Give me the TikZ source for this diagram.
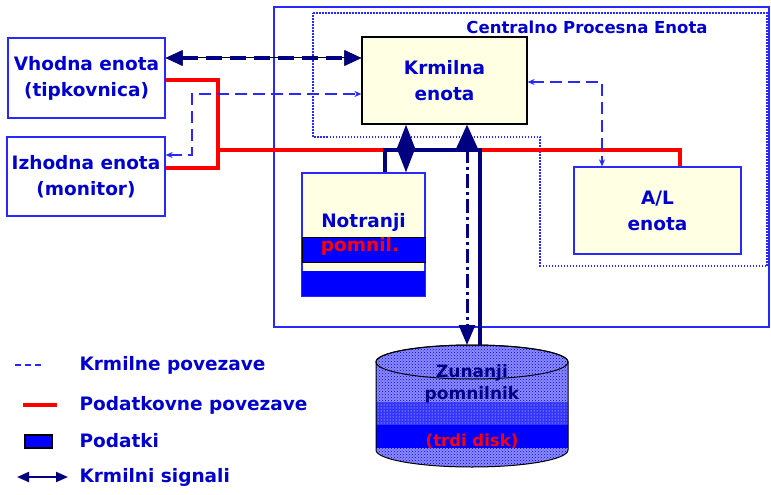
\documentclass[tikz,border=0pt]{standalone}
\usepackage{fontspec}
\setmainfont{DejaVu Sans}
\usetikzlibrary{
	arrows.meta,
	patterns,
	positioning,
	calc
}
\definecolor{TxtBlue}{RGB}{0,0,204}
\definecolor{LineBlue}{RGB}{40,40,255}
\definecolor{Navy}{RGB}{0,0,128}
\definecolor{PaleYellow}{RGB}{255,255,228}
\definecolor{DiskBlue}{RGB}{140,140,255}

\begin{document}
\begin{tikzpicture}[x=1pt, y=-1pt,
		unit/.style={draw=LineBlue, line width=1.2pt, align=center, text=TxtBlue,
			font=\fontsize{18.5}{26}\selectfont\bfseries, inner sep=0pt},
		legtxt/.style={anchor=west, text=TxtBlue, font=\fontsize{18.5}{22}\selectfont\bfseries},
		data/.style={red, line width=4pt, line join=miter},
		ctrl/.style={LineBlue, line width=1.3pt, dash pattern=on 12pt off 6pt,
			{Stealth[length=7pt,width=6pt]}-{Stealth[length=7pt,width=6pt]}},
		sig/.style={Navy, line width=3.5pt, dash pattern=on 16pt off 8pt,
			{Triangle[length=17pt,width=15pt]}-{Triangle[length=17pt,width=15pt]},
			preaction={draw=black, line width=1pt, solid}},
		bus/.style={Navy, line width=4.5pt, line join=miter}]
		\useasboundingbox (0,0) rectangle (771,495);
		
		% CPE
		\draw[LineBlue, line width=1.3pt] (274,7) rectangle (769,327);
		\draw[LineBlue, line width=1.2pt, dash pattern=on 1.5pt off 1.5pt]
			(313,13) -- (767,13) -- (767,266) -- (540,266) -- (540,137) -- (313,137) -- cycle;
		\node[text=TxtBlue, font=\fontsize{16.5}{20}\selectfont\bfseries] (cpe) at (587,27) {Centralno Procesna Enota};
		
		\node[unit, minimum width=157, minimum height=80] (vhod) at (86.5,78) {Vhodna enota\\(tipkovnica)};
		\node[unit, minimum width=158, minimum height=79] (izhod) at (86,176.5) {Izhodna enota\\(monitor)};
		\node[unit, draw=black, fill=PaleYellow, minimum width=165, minimum height=87] (krm) at (444.5,80.5) {Krmilna\\enota};
		\node[unit, fill=PaleYellow, minimum width=167, minimum height=87] (alu) at (657.5,210.5) {A/L\\enota};
		
		% notranji pomnilnik
		\node[unit, fill=PaleYellow, minimum width=123, minimum height=123] (notr) at (363.5,234.5) {};
		\filldraw[fill=blue, draw=black, line width=1pt] (302,237) rectangle (425,262);
		\fill[blue] (302,271) rectangle (425,296);
		\node[text=TxtBlue, font=\fontsize{18.5}{22}\selectfont\bfseries] (notr1) at (363.5,222) {Notranji};
		\node[text=red, font=\fontsize{18.5}{22}\selectfont\bfseries] (notr2) at (360,246) {pomnil.};
		
		% zunanji pomnilnik
		\coordinate (disktop) at (472,345);
		\begin{scope}
			\clip (376,362) -- (376,450) arc[start angle=180, end angle=0, x radius=96, y radius=17]
				-- (568,362) arc[start angle=0, end angle=-180, x radius=96, y radius=17] -- cycle;
			\fill[DiskBlue] (370,340) rectangle (575,470);
			\fill[pattern=crosshatch dots, pattern color=blue] (370,340) rectangle (575,470);
			\fill[blue!80] (370,402) rectangle (575,425);
			\fill[pattern=dots, pattern color=white] (370,402) rectangle (575,425);
			\fill[blue] (370,425) rectangle (575,448);
		\end{scope}
		\draw[line width=1pt] (376,362) -- (376,450) arc[start angle=180, end angle=0, x radius=96, y radius=17]
			-- (568,362) arc[start angle=0, end angle=-180, x radius=96, y radius=17];
		\draw[line width=1pt] (472,362) ellipse[x radius=96, y radius=17];
		\node[text=Navy, align=center, font=\fontsize{17}{22}\selectfont\bfseries] (disk) at (472,384) {Zunanji\\pomnilnik};
		\node[text=red, font=\fontsize{16.5}{20}\selectfont\bfseries] (disk2) at (472,441) {(trdi disk)};
		
		% podatkovne povezave
		\coordinate (rj) at (218,150);
		\draw[data] ([yshift=-2pt]vhod.east) -| (rj) |- ([yshift=8.5pt]izhod.east);
		\draw[data] (rj) -| ([xshift=22.5pt]alu.north);
		
		% vodilo
		\draw[bus] ([xshift=21.5pt]notr.north) |- (480,150) -- ([xshift=8pt]disktop);
		
		% krmilne povezave
		\draw[ctrl] ([yshift=21.5pt]izhod.east) -| (192,94) -- ([yshift=-13.5pt]krm.west);
		\draw[ctrl] ([yshift=-1.5pt]krm.east) -| ([xshift=-55.5pt]alu.north);
		
		% krmilni signali
		\draw[sig] ([yshift=20pt]vhod.east) -- ([yshift=22.5pt]krm.west);
		\draw[Navy, line width=3pt, {Triangle[length=24.5pt,width=18pt]}-{Triangle[length=24.5pt,width=18pt]}]
			([xshift=-38.5pt]krm.south) -- ([xshift=42.5pt]notr.north);
		\draw[Navy, line width=3pt, dash pattern=on 14pt off 4pt on 3pt off 4pt,
			{Triangle[length=25pt,width=22pt]}-{Triangle[length=20pt,width=16pt]}]
			([xshift=22.5pt]krm.south) -- ([xshift=-5pt]disktop);
		
		% legenda
		\draw[LineBlue, line width=1.2pt, dash pattern=on 6pt off 4pt] (15,365) -- (43,365);
		\node[legtxt] (leg1) at (76,365) {Krmilne povezave};
		\draw[red, line width=4pt] (23,405) -- (57,405);
		\node[legtxt] (leg2) at (76,405) {Podatkovne povezave};
		\filldraw[fill=blue, draw=black, line width=1.2pt] (25,435) rectangle (52,448);
		\node[legtxt] (leg3) at (76,441) {Podatki};
		\draw[Navy, line width=2pt, {Triangle[length=12pt,width=10pt]}-{Triangle[length=12pt,width=10pt]}] (17,477) -- (68,477);
		\node[legtxt] (leg4) at (76,477) {Krmilni signali};
	\end{tikzpicture}
\end{document}
